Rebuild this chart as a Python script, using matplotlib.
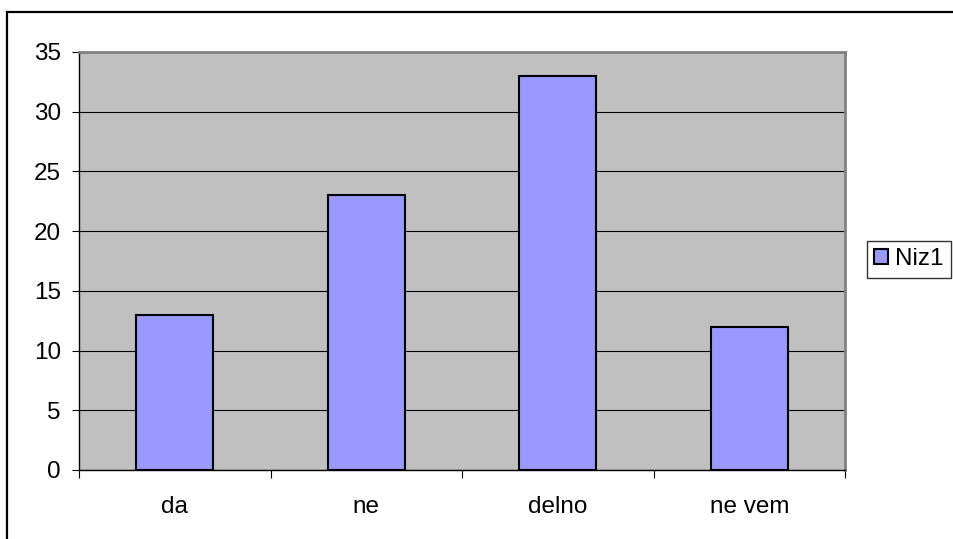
import matplotlib
matplotlib.use("Agg")
import matplotlib.pyplot as plt
import matplotlib.patches as patches
import numpy as np

plt.rcParams['font.family'] = ['Liberation Sans', 'DejaVu Sans']

categories = ["da", "ne", "delno", "ne vem"]
values = [13, 23, 33, 12]
series_name = "Niz1"
y_ticks = [0, 5, 10, 15, 20, 25, 30, 35]

W, H = 954, 539
fig = plt.figure(figsize=(W / 100, H / 100), dpi=100)

# plot area in pixels: left 79, top 52, right 845, bottom 470
ax = fig.add_axes([79 / W, (H - 470) / H, (845 - 79) / W, (470 - 52) / H])
ax.set_facecolor("#c0c0c0")

x = np.arange(len(categories))
bars = ax.bar(x, values, width=0.4, color="#9999ff", edgecolor="black",
              linewidth=1.5, zorder=3, label=series_name)

ax.set_xlim(-0.5, len(categories) - 0.5)
ax.set_ylim(0, 35)
ax.set_yticks(y_ticks)
ax.yaxis.grid(True, color="black", linewidth=0.8, zorder=1)
ax.set_axisbelow(True)

ax.set_xticks(x)
ax.set_xticklabels(categories)
ax.set_xticks(np.arange(len(categories) + 1) - 0.5, minor=True)
ax.tick_params(axis="x", which="major", length=0, pad=19, labelsize=17.5)
ax.tick_params(axis="x", which="minor", length=6, width=0.8, color="black")
ax.tick_params(axis="y", length=5, width=0.8, pad=8, labelsize=17.5)

for side in ["top", "right"]:
    ax.spines[side].set_color("#808080")
    ax.spines[side].set_linewidth(2)
for side in ["left", "bottom"]:
    ax.spines[side].set_color("black")
    ax.spines[side].set_linewidth(1)

leg = fig.legend(handles=[bars], labels=[series_name],
                 loc="upper left", bbox_to_anchor=(867 / W, 1 - 241 / H),
                 fontsize=17.5, frameon=True, fancybox=False,
                 handlelength=0.55, handleheight=0.55, handletextpad=0.3,
                 borderpad=0.3, borderaxespad=0)
leg.get_frame().set_edgecolor("black")
leg.get_frame().set_linewidth(1)

# outer chart border
fig.patches.append(patches.Rectangle((7.5 / W, -0.1), 1.2, 1 - 12.5 / H + 0.1,
                                     transform=fig.transFigure, fill=False,
                                     edgecolor="black", linewidth=1.6))

fig.savefig("out.png", dpi=100)
